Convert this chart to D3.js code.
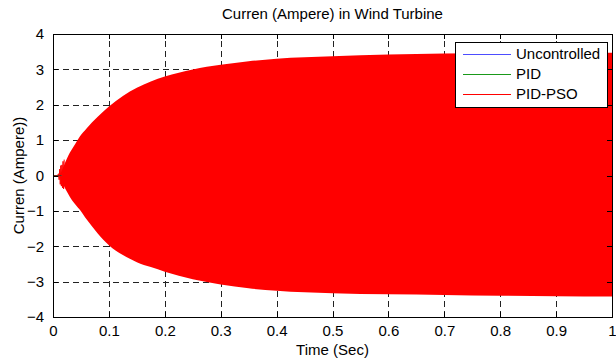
<!DOCTYPE html>
<html>
<head>
<meta charset="utf-8">
<script src="https://cdn.jsdelivr.net/npm/d3@7"></script>
<style>
  html, body { margin: 0; padding: 0; background: #fff; }
  svg { display: block; }
  text { font-family: "Liberation Sans", Arial, Helvetica, sans-serif; fill: #000; }
</style>
</head>
<body>
<svg id="chart" width="616" height="360"></svg>
<script>
// Current envelope of the PID-PSO response (upper / lower peaks over time)
const envTime  = [0.012, 0.016, 0.020, 0.025, 0.030, 0.040, 0.048, 0.060, 0.080, 0.100, 0.125, 0.150, 0.175, 0.200, 0.250, 0.300, 0.350, 0.400, 0.500, 0.600, 0.700, 0.800, 0.900, 1.000];
const envUpper = [0.00, 0.15, 0.30, 0.48, 0.64, 0.90, 1.10, 1.33, 1.66, 1.95, 2.25, 2.48, 2.66, 2.80, 3.00, 3.13, 3.23, 3.30, 3.37, 3.42, 3.45, 3.46, 3.47, 3.47];
const envLower = [0.00, -0.15, -0.31, -0.46, -0.60, -0.82, -0.97, -1.24, -1.64, -1.97, -2.25, -2.45, -2.59, -2.72, -2.93, -3.08, -3.19, -3.26, -3.33, -3.36, -3.38, -3.40, -3.41, -3.42];

// Start-up ripple before the oscillation settles into its envelope
const rippleTime  = [0.000, 0.008, 0.010, 0.011, 0.012, 0.013, 0.014, 0.015, 0.016, 0.017, 0.018, 0.019, 0.020];
const rippleValue = [0.00, 0.00, 0.05, -0.12, 0.18, -0.25, 0.28, -0.30, 0.30, -0.35, 0.40, -0.38, 0.45];

// Flat start of all three controllers
const flatTime  = [0.000, 0.015];
const flatValue = [0.00, 0.00];

const seriesNames  = ["Uncontrolled", "PID", "PID-PSO"];
const seriesColors = ["#4d4dff", "#1a991a", "#ff0000"];

const xTicks = [0, 0.1, 0.2, 0.3, 0.4, 0.5, 0.6, 0.7, 0.8, 0.9, 1];
const yTicks = [-4, -3, -2, -1, 0, 1, 2, 3, 4];

const titleText  = "Curren (Ampere) in Wind Turbine";
const xLabelText = "Time (Sec)";
const yLabelText = "Curren (Ampere))";

const fontSize = 15;
const svg = d3.select("#chart");
const margin = { left: 53, top: 34, right: 4, bottom: 43 };
const W = 616, H = 360;
const x = d3.scaleLinear().domain([0, 1]).range([margin.left, W - margin.right]);
const y = d3.scaleLinear().domain([-4, 4]).range([H - margin.bottom, margin.top]);

const plotL = x(0), plotR = x(1), plotT = y(4), plotB = y(-4);

// Grid lines (dashed)
const grid = svg.append("g").attr("stroke", "#222").attr("stroke-width", 1)
  .attr("stroke-dasharray", "6,4").attr("shape-rendering", "crispEdges");
grid.selectAll("line.gx").data(xTicks.slice(1, -1)).join("line")
  .attr("x1", d => Math.round(x(d)) + 0.5).attr("x2", d => Math.round(x(d)) + 0.5)
  .attr("y1", plotB).attr("y2", plotT);
grid.selectAll("line.gy").data(yTicks.slice(1, -1)).join("line")
  .attr("y1", d => Math.round(y(d)) + 0.5).attr("y2", d => Math.round(y(d)) + 0.5)
  .attr("x1", plotL).attr("x2", plotR);

// Envelope area of the dense oscillation
const env = envTime.map((t, i) => ({ t, hi: envUpper[i], lo: envLower[i] }));
svg.append("path").datum(env)
  .attr("fill", seriesColors[2])
  .attr("d", d3.area().curve(d3.curveMonotoneX).x(d => x(d.t)).y0(d => y(d.lo)).y1(d => y(d.hi)));

// Start-up ripple
svg.append("path").datum(rippleTime.map((t, i) => [t, rippleValue[i]]))
  .attr("fill", "none").attr("stroke", seriesColors[2]).attr("stroke-width", 1)
  .attr("d", d3.line().x(d => x(d[0])).y(d => y(d[1])));

// Overlapping flat start of the three controllers
seriesColors.forEach((c, k) => {
  svg.append("path").datum(flatTime.map((t, i) => [t, flatValue[i]]))
    .attr("fill", "none").attr("stroke", k === 2 ? "#7a2a1a" : c).attr("stroke-width", 1)
    .attr("d", d3.line().x(d => x(d[0])).y(d => y(d[1])));
});

// Axes with inward ticks on all four sides
const tickLen = 5;
const xAxisB = d3.axisBottom(x).tickValues(xTicks).tickSize(-tickLen).tickPadding(8).tickFormat(d3.format("~g"));
const xAxisT = d3.axisTop(x).tickValues(xTicks).tickSize(-tickLen).tickFormat("");
const yAxisL = d3.axisLeft(y).tickValues(yTicks).tickSize(-tickLen).tickPadding(9).tickFormat(d3.format("~g"));
const yAxisR = d3.axisRight(y).tickValues(yTicks).tickSize(-tickLen).tickFormat("");

function styleAxis(g) {
  g.select(".domain").remove();
  g.selectAll(".tick line").attr("stroke", "#000").attr("shape-rendering", "crispEdges");
  g.selectAll(".tick text").attr("font-size", fontSize).attr("font-family", "Liberation Sans, Arial, sans-serif").attr("fill", "#000");
}
svg.append("g").attr("transform", `translate(0,${plotB})`).call(xAxisB).call(styleAxis);
svg.append("g").attr("transform", `translate(0,${plotT})`).call(xAxisT).call(styleAxis);
svg.append("g").attr("transform", `translate(${plotL},0)`).call(yAxisL).call(styleAxis);
svg.append("g").attr("transform", `translate(${plotR},0)`).call(yAxisR).call(styleAxis);

// Plot box
svg.append("rect")
  .attr("x", Math.round(plotL) + 0.5).attr("y", Math.round(plotT) + 0.5)
  .attr("width", Math.round(plotR) - Math.round(plotL)).attr("height", Math.round(plotB) - Math.round(plotT))
  .attr("fill", "none").attr("stroke", "#000").attr("stroke-width", 1).attr("shape-rendering", "crispEdges");

// Title and axis labels
svg.append("text").attr("x", (plotL + plotR) / 2).attr("y", 19)
  .attr("text-anchor", "middle").attr("font-size", fontSize).text(titleText);
svg.append("text").attr("x", (plotL + plotR) / 2).attr("y", 355)
  .attr("text-anchor", "middle").attr("font-size", fontSize).text(xLabelText);
svg.append("text").attr("transform", `translate(24,${(plotT + plotB) / 2}) rotate(-90)`)
  .attr("text-anchor", "middle").attr("font-size", fontSize).text(yLabelText);

// Legend
const lg = svg.append("g");
const lgX = 455, lgY = 42, lgW = 152, lgH = 65;
lg.append("rect").attr("x", lgX + 0.5).attr("y", lgY + 0.5).attr("width", lgW).attr("height", lgH)
  .attr("fill", "#fff").attr("stroke", "#000").attr("shape-rendering", "crispEdges");
const rowY = [54, 74, 94];
seriesNames.forEach((name, i) => {
  lg.append("line").attr("x1", 463).attr("x2", 511).attr("y1", rowY[i] + 0.5).attr("y2", rowY[i] + 0.5)
    .attr("stroke", seriesColors[i]).attr("stroke-width", 1);
  lg.append("text").attr("x", 516).attr("y", rowY[i] + 5).attr("font-size", fontSize).text(name);
});
</script>
</body>
</html>
